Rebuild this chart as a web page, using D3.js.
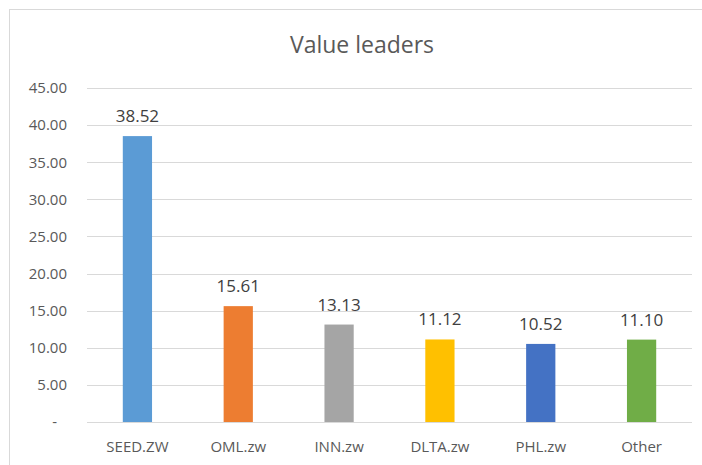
<!DOCTYPE html>
<html>
<head>
<meta charset="utf-8">
<script src="https://cdn.jsdelivr.net/npm/d3@7"></script>
<style>
  body { margin: 0; background: #fff; }
  text { font-family: "Open Sans", "Noto Sans", sans-serif; }
</style>
</head>
<body>
<script>
// Chart data
const categories = ["SEED.ZW", "OML.zw", "INN.zw", "DLTA.zw", "PHL.zw", "Other"];
const values = [38.52, 15.61, 13.13, 11.12, 10.52, 11.10];
const colors = ["#5B9BD5", "#ED7D31", "#A5A5A5", "#FFC000", "#4472C4", "#70AD47"];
const yTicks = [0, 5, 10, 15, 20, 25, 30, 35, 40, 45];

const width = 702;
const height = 465;
const margin = { top: 88, right: 10, bottom: 43, left: 87 };

const svg = d3.select("body").append("svg")
    .attr("width", width)
    .attr("height", height);

svg.append("rect")
    .attr("width", width)
    .attr("height", height)
    .attr("fill", "#fff");

// chart frame
svg.append("rect")
    .attr("x", 9.5).attr("y", 9.5)
    .attr("width", width + 10).attr("height", height + 10)
    .attr("fill", "none")
    .attr("stroke", "#d9d9d9");

const x = d3.scaleBand()
    .domain(categories)
    .range([margin.left, 692])
    .paddingInner(0.71)
    .paddingOuter(0.355);

const y = d3.scaleLinear()
    .domain([0, 45])
    .range([422, margin.top]);

// Title
svg.append("text")
    .attr("x", 362).attr("y", 53)
    .attr("text-anchor", "middle")
    .attr("font-size", 23)
    .attr("fill", "#595959")
    .text("Value leaders");

// gridlines
svg.append("g")
    .selectAll("line")
    .data(yTicks)
    .join("line")
    .attr("x1", margin.left).attr("x2", 692)
    .attr("y1", d => Math.round(y(d)) + 0.5)
    .attr("y2", d => Math.round(y(d)) + 0.5)
    .attr("stroke", "#d9d9d9");

// y axis labels
const yAxis = d3.axisLeft(y)
    .tickValues(yTicks)
    .tickSize(0)
    .tickPadding(0)
    .tickFormat(d => d === 0 ? "-" : d3.format(".2f")(d));

svg.append("g")
    .attr("transform", "translate(67,0)")
    .call(yAxis)
    .call(g => g.select(".domain").remove())
    .call(g => g.selectAll("text")
        .attr("font-size", 15)
        .attr("fill", "#595959")
        .attr("font-family", "'Open Sans', sans-serif")
        .attr("dx", d => d === 0 ? -10 : 0));

// bars
svg.append("g")
    .selectAll("rect")
    .data(values)
    .join("rect")
    .attr("x", (d, i) => x(categories[i]))
    .attr("y", d => y(d))
    .attr("width", x.bandwidth())
    .attr("height", d => y(0) - y(d))
    .attr("fill", (d, i) => colors[i]);

// value labels
svg.append("g")
    .selectAll("text")
    .data(values)
    .join("text")
    .attr("x", (d, i) => x(categories[i]) + x.bandwidth() / 2)
    .attr("y", d => y(d) - 14)
    .attr("text-anchor", "middle")
    .attr("font-size", 17)
    .attr("fill", "#404040")
    .text(d => d.toFixed(2));

// x axis labels
const xAxis = d3.axisBottom(x).tickSize(0).tickPadding(0);
svg.append("g")
    .attr("transform", "translate(0,441)")
    .call(xAxis)
    .call(g => g.select(".domain").remove())
    .call(g => g.selectAll("text")
        .attr("font-size", 15)
        .attr("fill", "#595959")
        .attr("font-family", "'Open Sans', sans-serif"));
</script>
</body>
</html>
